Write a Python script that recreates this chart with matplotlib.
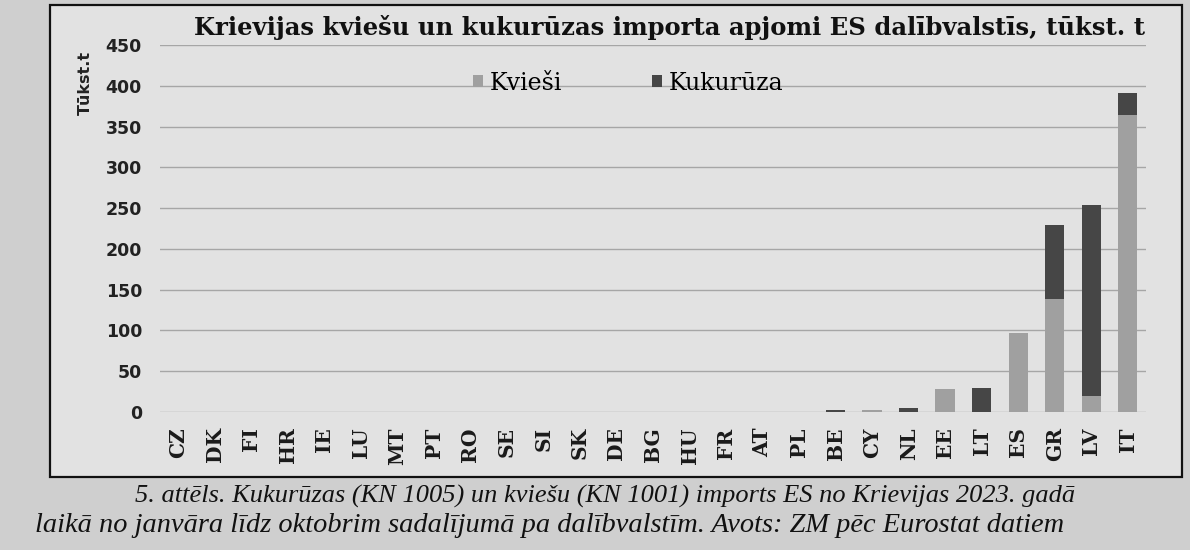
import matplotlib.pyplot as plt
from matplotlib.patches import Rectangle
import numpy as np

# Data (thousand tonnes)
countries = ["CZ", "DK", "FI", "HR", "IE", "LU", "MT", "PT", "RO", "SE", "SI", "SK",
             "DE", "BG", "HU", "FR", "AT", "PL", "BE", "CY", "NL", "EE", "LT", "ES",
             "GR", "LV", "IT"]
kviesi = [0, 0, 0, 0, 0, 0, 0, 0, 0, 0, 0, 0,
          0, 0, 0, 0, 0, 0, 0, 3, 0, 28, 0, 97,
          138, 20, 364]
kukuruza = [0, 0, 0, 0, 0, 0, 0, 0, 0, 0, 0, 0,
            0, 0, 0, 0, 0, 0, 3, 0, 5, 0, 29, 0,
            91, 234, 27]
yticks = [0, 50, 100, 150, 200, 250, 300, 350, 400, 450]

title = "Krievijas kviešu un kukurūzas importa apjomi ES dalībvalstīs, tūkst. t"
caption1 = "5. attēls. Kukurūzas (KN 1005) un kviešu (KN 1001) imports ES no Krievijas 2023. gadā"
caption2 = "laikā no janvāra līdz oktobrim sadalījumā pa dalībvalstīm. Avots: ZM pēc Eurostat datiem"

W, H = 1190, 550
fig = plt.figure(figsize=(W / 100, H / 100), dpi=100)
fig.patch.set_facecolor("#cfcfcf")

# chart frame (lighter paper inside a black box), behind the axes
frame = Rectangle((50 / W, 1 - 477 / H), (1182 - 50) / W, (477 - 5) / H,
                  transform=fig.transFigure, facecolor="#e2e2e2",
                  edgecolor="#111111", linewidth=1.6, zorder=-5)
fig.patches.append(frame)

ax = fig.add_axes([160 / W, 1 - 412 / H, (1146 - 160) / W, (412 - 45) / H])
ax.set_facecolor("none")

x = np.arange(len(countries))
bw = 0.53
ax.bar(x, kviesi, bw, color="#a0a0a0", label="Kvieši", zorder=3)
ax.bar(x, kukuruza, bw, bottom=kviesi, color="#464646", label="Kukurūza", zorder=3)

ax.set_xlim(-0.5, len(countries) - 0.5)
ax.set_ylim(0, 450)
ax.set_yticks(yticks)
ax.yaxis.grid(True, color="#a6a6a6", linewidth=1.0, zorder=0)
ax.tick_params(axis="both", length=0)
for s in ax.spines.values():
    s.set_visible(False)

ax.set_yticklabels([str(v) for v in yticks], fontsize=12.5, fontweight="bold",
                   family="DejaVu Sans", color="#222222")
ax.tick_params(axis="y", pad=13)
ax.set_xticks(x)
ax.set_xticklabels(countries, rotation=90, fontsize=14.5, fontweight="bold",
                   family="DejaVu Serif", color="#1a1a1a")
ax.tick_params(axis="x", pad=11)

fig.text(85 / W, 1 - 83 / H, "Tūkst.t", rotation=90, ha="center", va="center",
         fontsize=11.5, fontweight="bold", family="DejaVu Sans", color="#222222")

fig.text(669 / W, 1 - 28 / H, title, ha="center", va="center", fontsize=17.5,
         fontweight="bold", family="DejaVu Serif", color="#111111")

ax.legend(loc="upper center", bbox_to_anchor=(0.475, 0.985), ncol=2, frameon=False,
          prop={"family": "DejaVu Serif", "size": 17},
          handlelength=0.42, handleheight=0.42, handletextpad=0.3, columnspacing=3.8)

fig.text(135 / W, 1 - 496 / H, caption1, ha="left", va="center", fontsize=19,
         style="italic", family="Liberation Serif", color="#111111")
fig.text(35 / W, 1 - 525 / H, caption2, ha="left", va="center", fontsize=20.4,
         style="italic", family="Liberation Serif", color="#111111")

fig.savefig("out.png", dpi=100)
